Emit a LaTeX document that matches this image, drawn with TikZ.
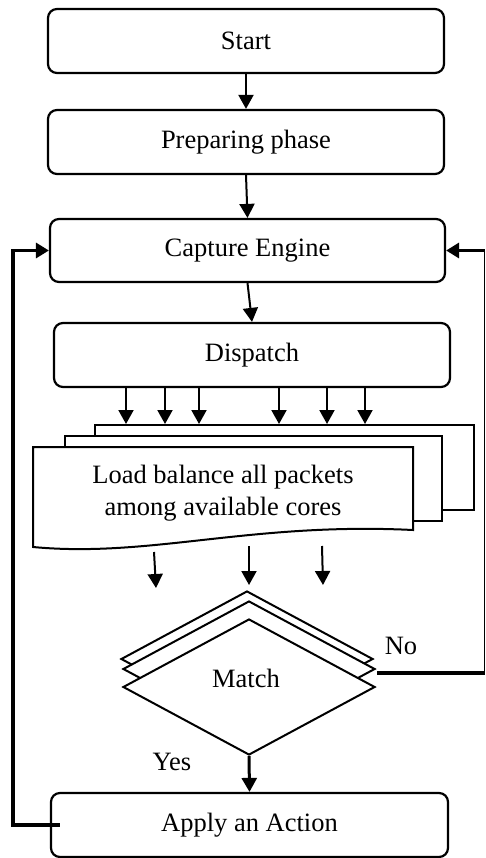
\documentclass[tikz,border=0pt]{standalone}
\usepackage{fontspec}
\setmainfont{Liberation Serif}
\usetikzlibrary{shapes.geometric,arrows.meta,calc}
\begin{document}
\begin{tikzpicture}[x=1pt,y=-1pt,
  txt/.style={font=\fontsize{26.5}{32}\selectfont},
  box/.style={txt, draw, line width=2.2pt, rounded corners=9pt, minimum width=396pt, minimum height=64pt, inner sep=0pt},
  docbox/.style={draw, line width=2pt, fill=white, rectangle, inner sep=0pt},
  arr/.style={line width=2pt, -{Triangle[length=14pt,width=15pt]}},
  fb/.style={line width=3.5pt, -{Triangle[length=13pt,width=15pt]}},
  dia/.style={diamond, draw, line width=2pt, fill=white, minimum width=252pt, minimum height=136pt, inner sep=0pt}]
\useasboundingbox (0,0) rectangle (486,858);

% main boxes
\node[box] (start) at (246,41) {Start};
\node[box] (prep) at (246,142) {Preparing phase};
\node[box, minimum width=395pt, minimum height=63pt] (cap) at (247.5,250.5) {Capture Engine};
\node[box] (disp) at (252,355) {Dispatch};
\node[box, minimum width=397pt] (apply) at (249.5,825) {Apply an Action};

% document stack
\node[docbox, minimum width=379pt, minimum height=85pt] (doc3) at (284.5,467.5) {};
\node[docbox, minimum width=377pt, minimum height=85pt] (doc2) at (253.5,478.5) {};
\draw[line width=2pt, fill=white] (33,547) -- (33,447) -- (413,447) -- (413,530)
  .. controls (250,522) and (150,558) .. (33,547) -- cycle;
\node[txt, align=center] (doc) at (223,493) {Load balance all packets\\among available cores};

% decision stack
\node[dia] (d3) at (247,659) {};
\node[dia] (d2) at (249,669) {};
\node[dia] (d1) at (249,687) {};
\node[txt] (match) at (246,678) {Match};

% labels
\node[txt] (no) at (401,645.5) {No};
\node[txt] (yes) at (172,762) {Yes};

% connectors
\draw[arr] (start.south) -- (prep.north);
\draw[arr] (prep.south) -- (cap.north);
\draw[arr] (cap.south) -- (disp.north);
\foreach \xx in {126,165,199,279,327,365}{
  \draw[arr] (disp.south -| \xx,0) -- (doc3.north -| \xx,0);
}
\coordinate (o1) at (154,552); \coordinate (e1) at (156,588);
\coordinate (o2) at (249,546); \coordinate (e2) at (249,585);
\coordinate (o3) at (322,546); \coordinate (e3) at (323,585);
\draw[arr] (o1) -- (e1);
\draw[arr] (o2) -- (e2);
\draw[arr] (o3) -- (e3);
\draw[arr, line width=3pt] (d1.south) -- (apply.north);

% "No" feedback loop
\coordinate (nostart) at (377,673);
\coordinate (nr) at (484.5,673);
\coordinate (tr) at (nr |- cap.east);
\draw[line width=3.5pt] (nostart) -- ($(nr)+(0.6,0)$);
\draw[line width=1.2pt] ($(nr)+(0,1.75)$) -- ($(tr)+(0,-1.75)$);
\draw[fb] ($(tr)+(0.6,0)$) -- (cap.east);

% "Apply" feedback loop
\draw[fb] ($(apply.west)+(10,0)$) -- ++(-47,0) |- (cap.west);
\end{tikzpicture}
\end{document}
